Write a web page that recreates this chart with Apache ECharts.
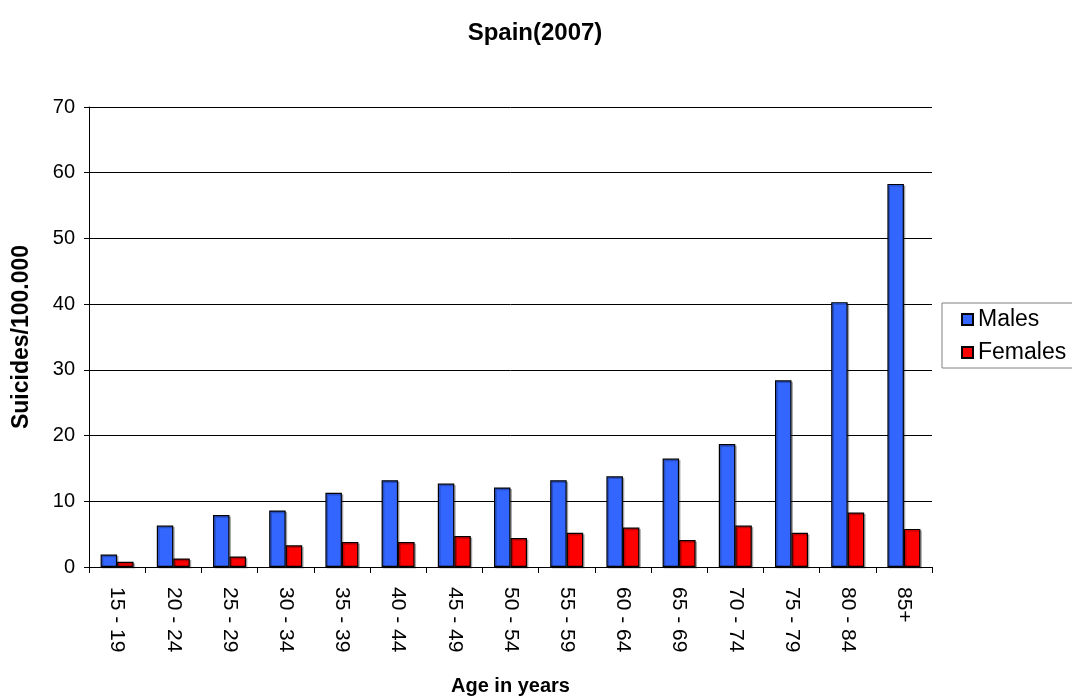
<!DOCTYPE html>
<html>
<head>
<meta charset="utf-8">
<script src="https://cdn.jsdelivr.net/npm/echarts@6/dist/echarts.min.js"></script>
<style>
  html, body { margin: 0; padding: 0; background: #fff; }
  #chart { width: 1072px; height: 697px; }
</style>
</head>
<body>
<div id="chart"></div>
<script>
// Suicide rates per 100.000 inhabitants by age group, Spain 2007
const ageGroups = ['15 - 19', '20 - 24', '25 - 29', '30 - 34', '35 - 39', '40 - 44', '45 - 49',
  '50 - 54', '55 - 59', '60 - 64', '65 - 69', '70 - 74', '75 - 79', '80 - 84', '85+'];
const males = [1.9, 6.3, 7.9, 8.6, 11.3, 13.2, 12.7, 12.1, 13.2, 13.8, 16.5, 18.7, 28.4, 40.3, 58.3];
const females = [0.8, 1.3, 1.6, 3.3, 3.8, 3.8, 4.7, 4.4, 5.2, 6.0, 4.1, 6.3, 5.2, 8.3, 5.8];

const font = 'Liberation Sans, Arial, sans-serif';
const chart = echarts.init(document.getElementById('chart'));

const barStyle = (color) => ({
  color: color,
  borderColor: '#000',
  borderWidth: 1.2,
  shadowColor: 'rgba(0,0,0,0.25)',
  shadowOffsetX: 1.5,
  shadowOffsetY: 1.5
});

chart.setOption({
  animation: false,
  backgroundColor: '#fff',
  title: {
    text: 'Spain(2007)',
    left: 530,
    textAlign: 'center',
    top: 16,
    textStyle: { fontFamily: font, fontSize: 24, fontWeight: 'bold', color: '#000' }
  },
  legend: {
    orient: 'vertical',
    left: 942,
    top: 303,
    padding: [5, 12, 4, 19],
    itemGap: 10,
    itemWidth: 11,
    itemHeight: 11,
    borderColor: '#808080',
    borderWidth: 1,
    icon: 'rect',
    textStyle: { fontFamily: font, fontSize: 23, color: '#000' },
    data: ['Males', 'Females']
  },
  grid: { left: 89, right: 140, top: 107, bottom: 130, containLabel: false, outerBoundsMode: 'none' },
  xAxis: {
    type: 'category',
    data: ageGroups,
    name: 'Age in years',
    nameLocation: 'middle',
    nameGap: 109,
    nameTextStyle: { fontFamily: font, fontSize: 20, fontWeight: 'bold', color: '#000' },
    axisLine: { lineStyle: { color: '#000', width: 1 } },
    axisTick: { show: true, length: 6, lineStyle: { color: '#000' } },
    axisLabel: {
      rotate: -90,
      margin: 20,
      fontFamily: font,
      fontSize: 21,
      color: '#000'
    }
  },
  yAxis: {
    type: 'value',
    min: 0,
    max: 70,
    interval: 10,
    name: 'Suicides/100.000',
    nameLocation: 'middle',
    nameGap: 56,
    nameTextStyle: { fontFamily: font, fontSize: 23, fontWeight: 'bold', color: '#000' },
    axisLine: { show: true, lineStyle: { color: '#000', width: 1 } },
    axisTick: { show: true, length: 5, lineStyle: { color: '#000' } },
    axisLabel: { margin: 14, fontFamily: font, fontSize: 20, color: '#000' },
    splitLine: { show: true, lineStyle: { color: '#000', width: 1 } }
  },
  series: [
    {
      name: 'Males',
      type: 'bar',
      data: males,
      barWidth: 16.5,
      barGap: '0%',
      itemStyle: barStyle('#3366FF')
    },
    {
      name: 'Females',
      type: 'bar',
      data: females,
      barWidth: 16.5,
      barGap: '0%',
      itemStyle: barStyle('#FF0000')
    }
  ]
});
</script>
</body>
</html>
